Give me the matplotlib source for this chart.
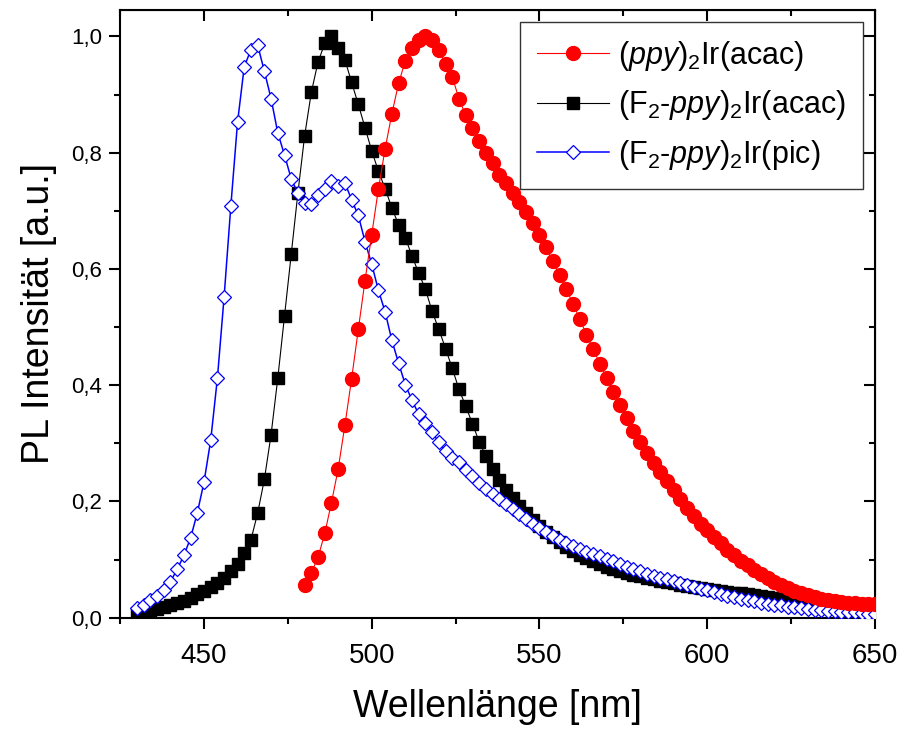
"""PL spectra of three iridium complexes"""
import numpy as np
import matplotlib
matplotlib.use("Agg")
import matplotlib.pyplot as plt
from matplotlib.ticker import MultipleLocator, FuncFormatter

plt.rcParams["font.family"] = ["Liberation Sans", "DejaVu Sans"]
plt.rcParams["mathtext.fontset"] = "custom"
plt.rcParams["mathtext.rm"] = "Liberation Sans"
plt.rcParams["mathtext.it"] = "Liberation Sans:italic"

# wavelengths in nm (2 nm steps)
wl_red = np.arange(480, 652, 2)
wl_black = np.arange(430, 652, 2)
wl_blue = np.arange(430, 652, 2)

# (ppy)2Ir(acac)
pl_red = [0.057, 0.077, 0.104, 0.145, 0.198, 0.256, 0.331, 0.411, 0.496, 0.580,
          0.659, 0.738, 0.807, 0.867, 0.919, 0.958, 0.980, 0.994, 1.000, 0.993,
          0.976, 0.953, 0.930, 0.893, 0.864, 0.843, 0.820, 0.800, 0.782, 0.762,
          0.747, 0.731, 0.715, 0.698, 0.679, 0.659, 0.637, 0.613, 0.589, 0.565,
          0.540, 0.514, 0.487, 0.462, 0.437, 0.413, 0.389, 0.366, 0.344, 0.322,
          0.302, 0.283, 0.266, 0.250, 0.235, 0.219, 0.204, 0.189, 0.175, 0.162,
          0.150, 0.139, 0.128, 0.117, 0.107, 0.098, 0.090, 0.082, 0.075, 0.068,
          0.062, 0.056, 0.051, 0.046, 0.042, 0.039, 0.036, 0.033, 0.031, 0.029,
          0.027, 0.026, 0.025, 0.024, 0.023, 0.024]

# (F2-ppy)2Ir(acac)
pl_black = [0.008, 0.010, 0.012, 0.015, 0.018, 0.021, 0.025, 0.029, 0.034, 0.040,
            0.046, 0.053, 0.060, 0.069, 0.080, 0.093, 0.111, 0.134, 0.180, 0.238,
            0.315, 0.412, 0.519, 0.625, 0.731, 0.829, 0.904, 0.956, 0.988, 1.000,
            0.980, 0.960, 0.921, 0.883, 0.843, 0.803, 0.768, 0.738, 0.705, 0.676,
            0.654, 0.622, 0.593, 0.565, 0.527, 0.496, 0.463, 0.429, 0.393, 0.364,
            0.334, 0.303, 0.278, 0.255, 0.237, 0.220, 0.206, 0.193, 0.180, 0.168,
            0.157, 0.147, 0.138, 0.130, 0.122, 0.115, 0.108, 0.102, 0.097, 0.092,
            0.088, 0.084, 0.080, 0.077, 0.074, 0.071, 0.068, 0.066, 0.063, 0.061,
            0.059, 0.057, 0.055, 0.053, 0.051, 0.050, 0.048, 0.046, 0.045, 0.043,
            0.042, 0.040, 0.039, 0.037, 0.036, 0.034, 0.033, 0.031, 0.030, 0.029,
            0.027, 0.026, 0.025, 0.024, 0.023, 0.021, 0.020, 0.019, 0.018, 0.017,
            0.016]

# (F2-ppy)2Ir(pic)
pl_blue = [0.017, 0.022, 0.030, 0.037, 0.048, 0.062, 0.083, 0.107, 0.137, 0.180,
           0.233, 0.305, 0.412, 0.552, 0.708, 0.852, 0.948, 0.977, 0.985, 0.940,
           0.893, 0.834, 0.796, 0.755, 0.730, 0.713, 0.712, 0.727, 0.738, 0.752,
           0.743, 0.748, 0.719, 0.692, 0.647, 0.608, 0.563, 0.526, 0.477, 0.438,
           0.401, 0.374, 0.350, 0.335, 0.319, 0.302, 0.287, 0.275, 0.267, 0.254,
           0.243, 0.232, 0.222, 0.213, 0.205, 0.196, 0.187, 0.178, 0.170, 0.162,
           0.154, 0.147, 0.140, 0.134, 0.128, 0.123, 0.118, 0.113, 0.110, 0.106,
           0.101, 0.097, 0.092, 0.088, 0.084, 0.080, 0.076, 0.072, 0.069, 0.066,
           0.063, 0.060, 0.057, 0.053, 0.050, 0.047, 0.044, 0.041, 0.038, 0.035,
           0.033, 0.030, 0.028, 0.026, 0.024, 0.022, 0.021, 0.019, 0.018, 0.016,
           0.015, 0.014, 0.013, 0.012, 0.011, 0.010, 0.009, 0.009, 0.008, 0.007,
           0.007]

labels = [r"($\mathit{ppy}$)$_2$Ir(acac)",
          r"(F$_2$-$\mathit{ppy}$)$_2$Ir(acac)",
          r"(F$_2$-$\mathit{ppy}$)$_2$Ir(pic)"]


def comma(val, pos):
    """decimal comma for the y axis"""
    return f"{val:.1f}".replace(".", ",")


def set_ticks(axis_obj, major, minor):
    axis_obj.set_major_locator(MultipleLocator(major))
    axis_obj.set_minor_locator(MultipleLocator(minor))


def main():
    fig = plt.figure(figsize=(9.03, 7.31), dpi=100)
    ax = fig.add_axes([0.133, 0.155, 0.836, 0.831])

    ax.plot(wl_black, pl_black, color="black", lw=0.8, marker="s", ms=8,
            mec="black", mfc="black", label=labels[1], zorder=3)
    ax.plot(wl_blue, pl_blue, color="blue", lw=1.1, marker="D", ms=7.5,
            mec="blue", mfc="white", mew=0.9, label=labels[2], zorder=4)
    ax.plot(wl_red, pl_red, color="red", lw=0.8, marker="o", ms=10,
            mec="red", mfc="red", label=labels[0], zorder=5)

    ax.set_xlim(425, 650)
    ax.set_ylim(0, 1.045)
    set_ticks(ax.xaxis, 50, 25)
    set_ticks(ax.yaxis, 0.2, 0.1)
    ax.yaxis.set_major_formatter(FuncFormatter(comma))
    ax.tick_params(which="both", direction="out", width=1.5)
    ax.tick_params(which="major", length=8)
    ax.tick_params(which="minor", length=4.5)
    ax.tick_params(axis="x", labelsize=20, pad=10.5)
    ax.tick_params(axis="y", labelsize=16, pad=5)
    for sp in ax.spines.values():
        sp.set_linewidth(1.5)

    # mirrored ticks pointing inward on top and right
    top = ax.secondary_xaxis("top")
    set_ticks(top.xaxis, 50, 25)
    top.tick_params(which="both", direction="in", width=1.5, labeltop=False)
    top.tick_params(which="major", length=8)
    top.tick_params(which="minor", length=4.5)
    right = ax.secondary_yaxis("right")
    set_ticks(right.yaxis, 0.2, 0.1)
    right.tick_params(which="both", direction="in", width=1.5, labelright=False)
    right.tick_params(which="major", length=8)
    right.tick_params(which="minor", length=4.5)

    ax.set_xlabel("Wellenlänge [nm]", fontsize=27, labelpad=14)
    ax.set_ylabel("PL Intensität [a.u.]", fontsize=27, labelpad=10)

    handles, labs = ax.get_legend_handles_labels()
    order = [2, 0, 1]
    leg = ax.legend([handles[i] for i in order], [labs[i] for i in order],
                    loc="upper right", fontsize=22, handlelength=2.35,
                    frameon=True, fancybox=False, borderpad=0.55,
                    labelspacing=0.5, handletextpad=0.3, borderaxespad=0,
                    bbox_to_anchor=(0.984, 0.980))
    leg.get_frame().set_edgecolor("black")
    leg.get_frame().set_linewidth(1.0)

    fig.savefig("out.png", dpi=100)


if __name__ == "__main__":
    main()
